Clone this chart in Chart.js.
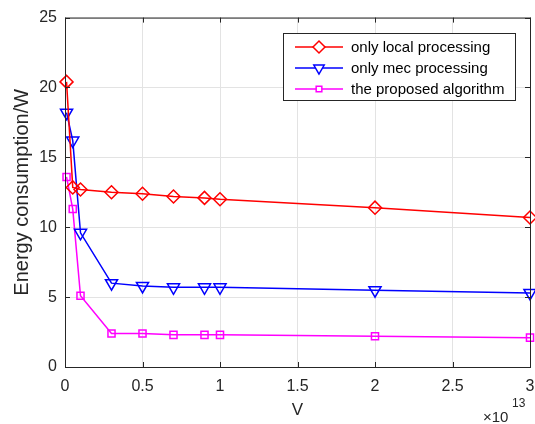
<!DOCTYPE html>
<html>
<head>
<meta charset="utf-8">
<script src="https://cdn.jsdelivr.net/npm/chart.js@4/dist/chart.umd.min.js"></script>
<style>
  html, body { margin: 0; padding: 0; background: #fff; }
  #wrap { width: 535px; height: 424px; }
</style>
</head>
<body>
<div id="wrap"><canvas id="energyChart" width="535" height="424"></canvas></div>
<script>
// --- Data (V in units of 1e13) ---
const vValues = [0.01, 0.05, 0.1, 0.3, 0.5, 0.7, 0.9, 1.0, 2.0, 3.0];
const localEnergy = [20.4, 12.85, 12.7, 12.5, 12.4, 12.2, 12.1, 12.0, 11.4, 10.7];
const mecEnergy = [18.2, 16.2, 9.6, 6.0, 5.8, 5.7, 5.7, 5.7, 5.5, 5.3];
const proposedEnergy = [13.6, 11.3, 5.1, 2.4, 2.4, 2.3, 2.3, 2.3, 2.2, 2.1];
const seriesNames = ['only local processing', 'only mec processing', 'the proposed algorithm'];
const xTicks = [0, 0.5, 1, 1.5, 2, 2.5, 3];
const yTicks = [0, 5, 10, 15, 20, 25];

const axisColor = '#262626';
const FONT = 'Liberation Sans, Arial, sans-serif';

function toPoints(ys) {
    return vValues.map((v, i) => ({ x: v, y: ys[i] }));
}

const datasets = [
    { label: seriesNames[0], data: toPoints(localEnergy), borderColor: '#ff0000', pointStyle: 'rectRot', pointRadius: 6.5, pointRotation: 0 },
    { label: seriesNames[1], data: toPoints(mecEnergy), borderColor: '#0000ff', pointStyle: 'triangle', pointRadius: 7, pointRotation: 180 },
    { label: seriesNames[2], data: toPoints(proposedEnergy), borderColor: '#ff00ff', pointStyle: 'rect', pointRadius: 5, pointRotation: 0 }
].map(d => Object.assign(d, {
    backgroundColor: 'rgba(0,0,0,0)',
    pointBorderColor: d.borderColor,
    pointBorderWidth: 1.5,
    borderWidth: 1.5,
    tension: 0,
    clip: false
}));

// box, inward ticks, x labels, legend and exponent, MATLAB-style
const matlabPlugin = {
    id: 'matlabBox',
    afterDraw(chart) {
        const { ctx, chartArea: a, scales } = chart;
        ctx.save();
        ctx.strokeStyle = axisColor;
        ctx.lineWidth = 1;
        ctx.strokeRect(a.left + 0.5, a.top + 0.5, a.right - a.left, a.bottom - a.top);
        ctx.beginPath();
        xTicks.forEach(t => {
            const px = Math.round(scales.x.getPixelForValue(t)) + 0.5;
            ctx.moveTo(px, a.bottom); ctx.lineTo(px, a.bottom - 5);
            ctx.moveTo(px, a.top); ctx.lineTo(px, a.top + 5);
        });
        yTicks.forEach(t => {
            const py = Math.round(scales.y.getPixelForValue(t)) + 0.5;
            ctx.moveTo(a.left, py); ctx.lineTo(a.left + 5, py);
            ctx.moveTo(a.right, py); ctx.lineTo(a.right - 5, py);
        });
        ctx.stroke();

        // x tick labels and title
        ctx.fillStyle = axisColor;
        ctx.textAlign = 'center';
        ctx.textBaseline = 'middle';
        ctx.font = '16px ' + FONT;
        xTicks.forEach(t => ctx.fillText(String(t), scales.x.getPixelForValue(t), a.bottom + 20));
        ctx.font = '17px ' + FONT;
        ctx.fillText('V', (a.left + a.right) / 2, 410);

        // exponent label
        ctx.textBaseline = 'alphabetic';
        ctx.textAlign = 'left';
        ctx.font = '15px ' + FONT;
        ctx.fillText('\u00d710', 483, 422);
        ctx.font = '12px ' + FONT;
        ctx.fillText('13', 512, 407);

        // legend
        const lx = 283, ly = 33, lw = 232, lh = 67;
        ctx.fillStyle = '#fff';
        ctx.fillRect(lx, ly, lw, lh);
        ctx.strokeStyle = axisColor;
        ctx.strokeRect(lx + 0.5, ly + 0.5, lw, lh);
        chart.data.datasets.forEach((ds, i) => {
            const y = ly + 14 + i * 21;
            ctx.strokeStyle = ds.borderColor;
            ctx.lineWidth = 1.5;
            ctx.beginPath();
            ctx.moveTo(lx + 12, y); ctx.lineTo(lx + 60, y);
            ctx.stroke();
            ctx.fillStyle = '#fff';
            Chart.helpers.drawPoint(ctx, {
                pointStyle: ds.pointStyle,
                rotation: ds.pointRotation,
                radius: ds.pointStyle === 'rect' ? 4 : 6,
                borderWidth: 1.5
            }, lx + 36, y);
            ctx.fillStyle = '#000';
            ctx.font = '15px ' + FONT;
            ctx.textBaseline = 'middle';
            ctx.fillText(ds.label, lx + 68, y + 1);
        });
        ctx.restore();
    }
};

new Chart(document.getElementById('energyChart').getContext('2d'), {
    type: 'line',
    data: { datasets },
    options: {
        responsive: false,
        animation: false,
        layout: { autoPadding: false, padding: { top: 16, right: 5, left: 0, bottom: 0 } },
        plugins: { legend: { display: false }, tooltip: { enabled: false } },
        scales: {
            x: {
                type: 'linear', min: 0, max: 3,
                afterBuildTicks: s => { s.ticks = xTicks.map(v => ({ value: v })); },
                afterFit: s => { s.height = 57; },
                grid: { color: '#e3e3e3', drawTicks: false },
                border: { display: false },
                ticks: { display: false }
            },
            y: {
                min: 0, max: 25,
                afterBuildTicks: s => { s.ticks = yTicks.map(v => ({ value: v })); },
                afterFit: s => { s.width = 65; },
                grid: { color: '#e3e3e3', drawTicks: false },
                border: { display: false },
                ticks: { color: axisColor, font: { family: FONT, size: 16 }, padding: 8 },
                title: { display: true, text: 'Energy consumption/W', color: axisColor, font: { family: FONT, size: 20 }, padding: { top: 10, bottom: 0 } }
            }
        }
    },
    plugins: [matlabPlugin]
});
</script>
</body>
</html>
